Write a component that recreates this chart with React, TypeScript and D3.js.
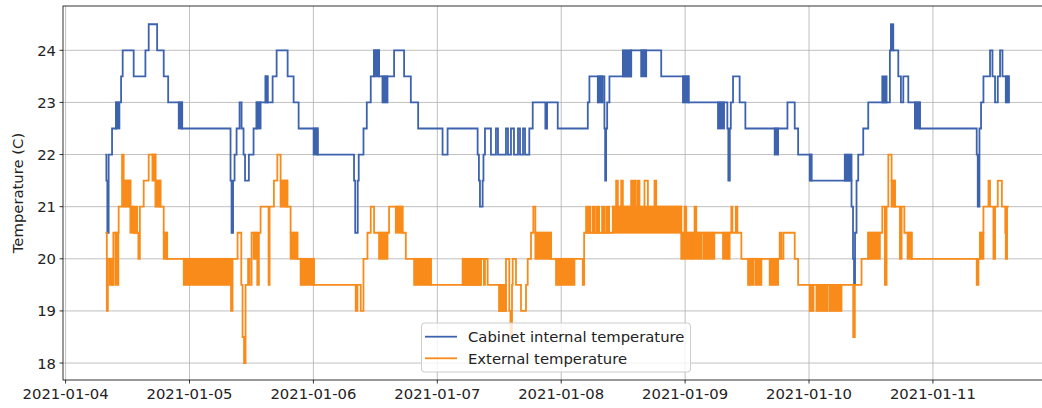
import React from "react";
import * as d3 from "d3";

// Hours since 2021-01-04 00:00 -> value (step after)
const cabinetSteps: [number, number][] = [
  [7.7, 22], [7.9, 21.5], [8.09, 20.5], [8.34, 22], [9.0, 22.5], [9.78, 23], [10.75, 23.5], [11.06, 24],
  [13.19, 23.5], [15.46, 24], [16.1, 24.5], [17.73, 24], [19.01, 23.5], [19.87, 23], [22.58, 22.5],
  [31.95, 21.5], [32.15, 20.5], [32.44, 21.5], [32.73, 22], [33.12, 22.5], [33.7, 23], [34.09, 22.5],
  [34.47, 22], [34.76, 21.5], [35.5, 22], [36.41, 22.5], [37.0, 23], [38.74, 23.5], [39.13, 23],
  [40.1, 23.5], [40.88, 24], [43.01, 23.5], [44.17, 23], [45.14, 22.5], [48.83, 22], [55.87, 21.5],
  [56.1, 20.5], [56.59, 21.5], [56.78, 22], [57.7, 22.5], [58.34, 23], [59.11, 23.5], [59.75, 24],
  [60.72, 23.5], [63.63, 24], [65.57, 23.5], [66.87, 23], [68.29, 22.5], [73.02, 22], [73.99, 22.5],
  [79.81, 22], [80.06, 21.5], [80.26, 21], [80.78, 21.5], [80.94, 22], [81.23, 22.5], [82.39, 22],
  [83.36, 22.5], [83.75, 22], [85.3, 22.5], [85.69, 22], [86.27, 22.5], [86.85, 22], [87.63, 22.5],
  [88.02, 22], [88.6, 22.5], [88.99, 22], [89.82, 22.5], [90.48, 23], [92.93, 22.5], [93.26, 23],
  [95.33, 22.5], [101.15, 23], [101.46, 23.5], [104.37, 22.5], [104.51, 21.5], [104.7, 22.5],
  [104.9, 23], [105.34, 23.5], [109.55, 24], [115.37, 23.5], [120.67, 23], [128.18, 22.5],
  [128.37, 21.5], [128.66, 22.5], [128.85, 23], [129.28, 23.5], [130.56, 23], [131.67, 22.5],
  [139.82, 23], [141.23, 22.5], [141.89, 22], [144.47, 21.5], [152.23, 21], [152.52, 20],
  [152.72, 19.5], [152.91, 20.5], [153.2, 21.5], [153.53, 22], [154.5, 22.5], [155.47, 23],
  [159.66, 24], [161.29, 23.5], [161.8, 23], [162.26, 23.5], [163.23, 23], [165.48, 22.5],
  [176.48, 22], [176.68, 21], [177.01, 22.5], [177.32, 23], [177.78, 23.5], [179.06, 24],
  [179.53, 23.5], [180.03, 23], [180.56, 23.5], [181.0, 24], [181.47, 23.5], [182.69, 23],
];

// Rapid toggling between two levels: [startHour, endHour, low, high]
const cabinetFlicker: [number, number, number, number][] = [
  [9.78, 10.42, 22.5, 23], [21.92, 22.58, 22.5, 23], [37.0, 37.77, 22.5, 23], [38.74, 39.13, 23, 23.5],
  [48.05, 48.83, 22, 22.5], [59.75, 60.72, 23.5, 24], [61.38, 62.35, 23, 23.5], [103.09, 104.06, 23, 23.5],
  [107.94, 109.55, 23.5, 24], [111.49, 112.46, 23.5, 24], [119.58, 120.67, 23, 23.5],
  [126.37, 127.54, 22.5, 23], [137.35, 138.01, 22, 22.5], [144.14, 144.47, 21.5, 22],
  [150.93, 152.23, 21.5, 22], [158.19, 159.02, 23, 23.5], [159.86, 160.32, 24, 24.5],
  [164.51, 165.48, 22.5, 23], [182.11, 182.69, 23, 23.5],
];

const externalSteps: [number, number][] = [
  [7.7, 20.5], [7.99, 19], [8.19, 20], [9.06, 19.5], [9.25, 20.5], [10.28, 21], [10.94, 22], [11.25, 21.5],
  [12.55, 21], [13.13, 20.5], [14.1, 20], [14.39, 21], [15.13, 21.5], [16.1, 22], [17.4, 21.5], [18.37, 21],
  [19.01, 20.5], [19.67, 20], [32.05, 19], [32.34, 20], [33.31, 20.5], [34.03, 19.5], [34.28, 18.5],
  [34.57, 18], [34.86, 19.5], [35.35, 20], [35.64, 19.5], [36.03, 20.5], [37.13, 19.5], [37.44, 20.5],
  [37.77, 21], [39.32, 19.5], [39.52, 21], [40.35, 21.5], [41.01, 22], [41.65, 21.5], [42.95, 21],
  [43.59, 20.5], [44.89, 20], [48.11, 19.5], [56.2, 19], [56.53, 19.5], [57.17, 19], [57.7, 20],
  [58.47, 20.5], [59.11, 21], [59.75, 20.5], [62.66, 21], [65.26, 20.5], [65.9, 20], [70.75, 19.5],
  [80.45, 20], [81.03, 19.5], [81.23, 20], [81.75, 19.5], [84.0, 19], [85.3, 20], [85.94, 19],
  [86.17, 18.5], [86.47, 19.5], [86.6, 20], [87.24, 19.5], [88.21, 19], [89.18, 19.5], [89.51, 20],
  [90.15, 20.5], [90.6, 21], [90.99, 20.5], [94.03, 20], [100.18, 19.5], [100.44, 20.5], [106.0, 21],
  [106.64, 21.5], [106.97, 21], [107.62, 21.5], [107.94, 21], [109.55, 21.5], [109.84, 21],
  [110.13, 21.5], [110.42, 21], [110.81, 21.5], [111.16, 21], [112.13, 21.5], [112.79, 21],
  [114.07, 21.5], [114.4, 21], [119.25, 20.5], [119.89, 21], [120.22, 20.5], [121.83, 21],
  [122.16, 20.5], [128.95, 21], [129.15, 20.5], [129.82, 21], [130.12, 20.5], [130.89, 20],
  [138.32, 20.5], [138.65, 20], [139.04, 20.5], [141.23, 20], [141.89, 19.5], [152.56, 18.5],
  [152.87, 19.5], [154.17, 20], [155.47, 20.5], [158.19, 21], [158.69, 19.5], [159.02, 21],
  [159.36, 22], [159.99, 21.5], [160.64, 21], [161.61, 20], [161.93, 21], [162.46, 20.5], [163.88, 20],
  [176.48, 19.5], [176.81, 20], [177.13, 20.5], [177.78, 21], [178.76, 21.5], [179.06, 21],
  [179.72, 20], [180.03, 21], [180.56, 21.5], [181.35, 21], [182.01, 20.5], [182.11, 20],
  [182.36, 21], [182.69, 21],
];

const externalFlicker: [number, number, number, number][] = [
  [8.48, 9.06, 19.5, 20], [9.64, 10.22, 19.5, 20.5], [11.25, 12.55, 21, 21.5], [12.55, 13.85, 20.5, 21],
  [16.82, 17.4, 21.5, 22], [17.4, 18.37, 21, 21.5], [19.01, 19.67, 20, 20.5], [22.89, 31.95, 19.5, 20],
  [36.41, 37.13, 20, 20.5], [41.65, 42.95, 21, 21.5], [43.59, 44.89, 20, 20.5], [45.53, 48.11, 19.5, 20],
  [60.72, 62.35, 20, 20.5], [63.96, 65.26, 20.5, 21], [67.51, 70.75, 19.5, 20], [76.9, 80.45, 19.5, 20],
  [84.0, 85.3, 19, 19.5], [90.99, 94.03, 20, 20.5], [95.0, 98.56, 19.5, 20],
  [100.82, 101.6, 20.5, 21], [102.08, 102.37, 20.5, 21], [102.76, 103.34, 20.5, 21],
  [103.92, 104.31, 20.5, 21], [104.7, 105.28, 20.5, 21], [106.0, 119.25, 20.5, 21],
  [119.25, 121.19, 20, 20.5], [121.39, 123.13, 20, 20.5], [123.52, 125.66, 20, 20.5],
  [127.34, 128.62, 20, 20.5], [132.19, 133.22, 19.5, 20], [133.61, 134.77, 19.5, 20],
  [136.38, 138.01, 19.5, 20], [144.14, 144.86, 19, 19.5], [145.44, 147.58, 19, 19.5],
  [147.96, 150.29, 19, 19.5], [155.47, 157.72, 20, 20.5], [159.99, 160.64, 21, 21.5],
  [163.1, 163.88, 20, 20.5], [177.13, 177.78, 20, 20.5],
];

const yTicks = [18, 19, 20, 21, 22, 23, 24];
const xTickDays = [4, 5, 6, 7, 8, 9, 10, 11];
const seriesNames = ["Cabinet internal temperature", "External temperature"];
const yLabel = "Temperature (C)";

const W = 1042, H = 408;
const M = { left: 63, top: 6, right: 1046, bottom: 380 };
const BLUE = "#3d62ae";
const ORANGE = "#f98b1a";
const FONT = "'DejaVu Sans', sans-serif";
const FS = 14.8;
const LW = 1.8;

const base = new Date(2021, 0, 4).getTime();
const toDate = (h: number) => new Date(base + h * 3600 * 1000);

export default function App() {
  const x = d3.scaleTime().domain([toDate(-0.5), toDate(189.9)]).range([M.left, M.right]);
  const y = d3.scaleLinear().domain([17.675, 24.85]).range([M.bottom, M.top]);
  const line = d3
    .line<[number, number]>()
    .x((d) => x(toDate(d[0])))
    .y((d) => y(d[1]))
    .curve(d3.curveStepAfter);
  const fmt = d3.timeFormat("%Y-%m-%d");
  const xTicks = xTickDays.map((d) => new Date(2021, 0, d));

  const bands = (data: [number, number, number, number][], color: string) =>
    data.map((b, i) => (
      <rect
        key={i}
        x={x(toDate(b[0]))}
        y={y(b[3])}
        width={x(toDate(b[1])) - x(toDate(b[0]))}
        height={y(b[2]) - y(b[3])}
        fill={color}
        stroke={color}
        strokeWidth={LW}
      />
    ));

  return (
    <svg
      width={W}
      height={H}
      style={{ position: "absolute", left: 0, top: 0, background: "#fff" }}
      fontFamily={FONT}
    >
      <defs>
        <clipPath id="plot">
          <rect x={M.left} y={M.top} width={M.right - M.left} height={M.bottom - M.top} />
        </clipPath>
      </defs>
      <rect x={0} y={0} width={W} height={H} fill="#fff" />
      <g stroke="#b0b0b0" strokeWidth={0.8}>
        {yTicks.map((t) => (
          <line key={t} x1={M.left} x2={M.right} y1={y(t)} y2={y(t)} />
        ))}
        {xTicks.map((t, i) => (
          <line key={i} x1={x(t)} x2={x(t)} y1={M.top} y2={M.bottom} />
        ))}
      </g>
      <g clipPath="url(#plot)">
        <path d={line(cabinetSteps) || ""} fill="none" stroke={BLUE} strokeWidth={LW} />
        {bands(cabinetFlicker, BLUE)}
        <path d={line(externalSteps) || ""} fill="none" stroke={ORANGE} strokeWidth={LW} />
        {bands(externalFlicker, ORANGE)}
      </g>
      <rect
        x={M.left}
        y={M.top}
        width={M.right - M.left}
        height={M.bottom - M.top}
        fill="none"
        stroke="#000"
        strokeWidth={0.8}
      />
      {yTicks.map((t) => (
        <g key={t}>
          <line x1={M.left - 3.5} x2={M.left} y1={y(t)} y2={y(t)} stroke="#000" strokeWidth={0.8} />
          <text x={M.left - 7} y={y(t)} textAnchor="end" dominantBaseline="central" fontSize={FS} fill="#222">
            {t}
          </text>
        </g>
      ))}
      {xTicks.map((t, i) => (
        <g key={i}>
          <line x1={x(t)} x2={x(t)} y1={M.bottom} y2={M.bottom + 3.5} stroke="#000" strokeWidth={0.8} />
          <text x={x(t)} y={M.bottom + 19} textAnchor="middle" fontSize={FS} fill="#222">
            {fmt(t)}
          </text>
        </g>
      ))}
      <text
        transform={`translate(17, ${(M.top + M.bottom) / 2}) rotate(-90)`}
        textAnchor="middle"
        dominantBaseline="central"
        fontSize={FS}
        fill="#222"
      >
        {yLabel}
      </text>
      <g>
        <rect x={421.5} y={323} width={269} height={49} rx={3} fill="#fff" fillOpacity={0.8} stroke="#cccccc" strokeWidth={1} />
        {seriesNames.map((name, i) => (
          <g key={name}>
            <line
              x1={425}
              x2={457}
              y1={336.7 + i * 21.6}
              y2={336.7 + i * 21.6}
              stroke={i === 0 ? BLUE : ORANGE}
              strokeWidth={LW}
            />
            <text x={468} y={336.7 + i * 21.6} dominantBaseline="central" fontSize={FS} fill="#222">
              {name}
            </text>
          </g>
        ))}
      </g>
    </svg>
  );
}
